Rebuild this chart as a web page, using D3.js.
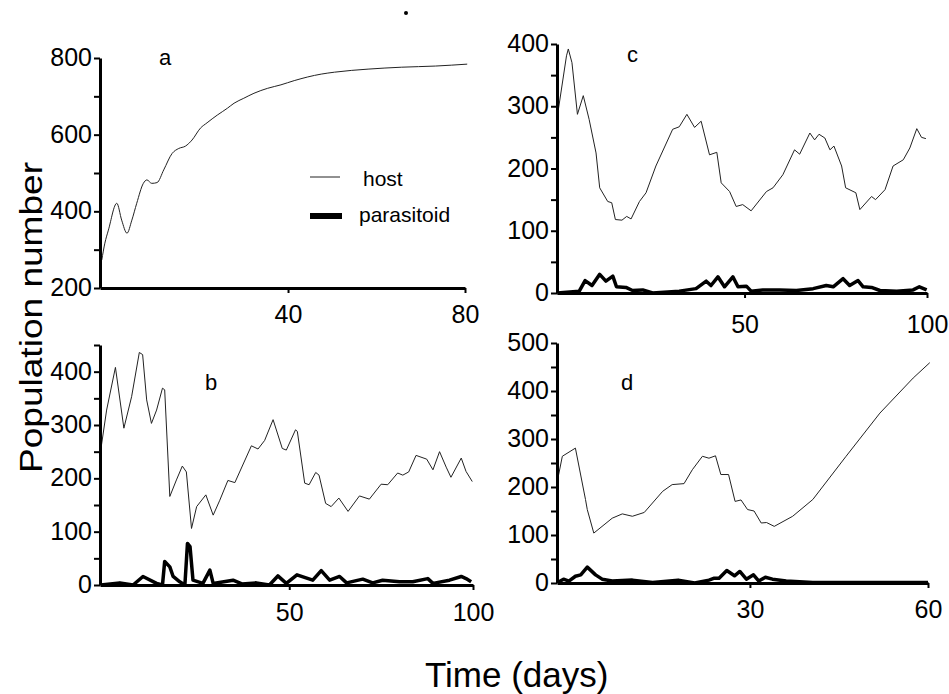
<!DOCTYPE html>
<html>
<head>
<meta charset="utf-8">
<script src="https://cdn.jsdelivr.net/npm/d3@7"></script>
<style>
  body { margin: 0; background: #fff; }
  svg text { font-family: "Liberation Sans", Arial, Helvetica, sans-serif; fill: #000; }
</style>
</head>
<body>
<svg id="chart" width="949" height="694"></svg>
<script>
// host / parasitoid numbers as [day, population]
const hostA = [[-2.1,273],[-1.4,317],[-0.6,351],[1.3,421],[2.4,377],[3.6,343],[4.7,377],[5.8,421],[7.3,473],[8.1,482],[9.2,473],[10.4,475],[11.9,508],[13.8,551],[15.3,564],[16.8,570],[18.3,586],[20.2,617],[21.7,631],[24,651],[26.3,669],[27.8,682],[30,695],[32.3,708],[35.4,721],[38.4,730],[41.4,741],[47.5,758],[50.5,763],[58.1,771],[65.7,776],[73.3,779],[80.5,784]];

const hostB = [[-1.3,253],[0.3,328],[2.7,408],[5.0,294],[7.1,353],[9.2,436],[10.1,432],[11.2,347],[12.5,303],[13.9,328],[15.5,369],[16.1,366],[17.5,166],[19.3,197],[20.9,223],[22,212],[23.4,106],[24.8,147],[27.3,169],[29.3,131],[31.1,159],[33.3,196],[35.2,192],[39.7,261],[41.5,255],[43.3,271],[45.6,310],[48.1,256],[49.2,253],[51.7,291],[52.2,288],[54.2,191],[55.4,188],[57.2,211],[58.1,206],[59.9,153],[61.4,147],[63.5,163],[66,138],[69.1,167],[71.8,161],[75,189],[76.8,188],[79.5,210],[80.9,206],[82.5,212],[84.5,243],[87.4,236],[89.1,216],[90.9,250],[92.7,221],[94,202],[96.8,238],[98.1,213],[99.8,194]];
const paraB = [[-1.3,0],[3.9,4],[7.5,0],[10.2,16],[13.9,3],[15.5,0],[16.1,44],[17.5,34],[18.4,16],[20.2,6],[21.6,0],[22.3,78],[23,72],[23.8,9],[26.5,3],[28.4,28],[29.3,3],[34.7,9],[37.1,2],[41,4],[44.6,0],[46.9,17],[49.2,3],[52.1,19],[56.4,9],[58.7,27],[61,9],[63.7,16],[65.6,4],[70,11],[72.7,4],[75.4,9],[80,6],[83.6,6],[87.7,12],[89.1,3],[93.6,9],[96.8,16],[98.1,12],[99.5,6]];

const hostC = [[-1.3,284],[1.2,381],[1.7,392],[2.7,370],[4.2,287],[5.8,317],[7.4,279],[9.3,225],[10.3,169],[12.5,147],[13.6,145],[14.6,118],[16.4,117],[17.7,123],[18.9,119],[21.2,147],[23,161],[25.7,204],[30.3,263],[32.1,267],[34.2,287],[36.3,266],[38.1,276],[40.4,222],[42.4,226],[43.6,177],[45.9,163],[47.7,139],[49.5,142],[51.8,132],[56,163],[57.8,169],[60.5,190],[63.7,230],[65.1,223],[67.9,257],[69.2,246],[70.4,255],[72,249],[73.4,230],[74.5,236],[76.6,204],[77.7,169],[80.5,161],[81.6,134],[84.8,155],[85.9,150],[88.5,166],[90.7,204],[93.5,214],[95.3,233],[97.2,264],[98.5,250],[99.7,248]];
const paraC = [[-1.3,0],[4.7,3],[6.3,20],[8.2,12],[10.3,30],[12,19],[13.9,27],[14.9,10],[17.5,9],[19.3,4],[22.1,5],[24.8,0],[32.1,3],[36.7,7],[39.5,19],[40.8,12],[42.7,26],[44.5,10],[46.8,26],[48.2,10],[50.5,11],[51.8,3],[55,5],[59.6,5],[64.2,4],[68.8,7],[72.4,12],[74.3,10],[77,23],[78.8,12],[81.1,20],[82.5,10],[84.8,9],[87.1,4],[91.7,3],[96.2,5],[97.9,10],[99.9,5]];

const hostD = [[-2.4,215],[-1.6,264],[0.6,281],[2.3,174],[2.6,153],[3.7,104],[6.8,135],[8.5,144],[10.2,139],[12.2,147],[15.3,191],[16.9,205],[18.9,207],[20.3,236],[22,264],[23.1,260],[24.2,265],[25.1,226],[26.4,226],[27.5,170],[28.5,173],[29.6,153],[30.7,150],[31.9,125],[32.8,126],[34.1,118],[37.2,139],[40.6,174],[46.2,264],[51.9,354],[57.5,427],[60.3,459]];
const paraD = [[-2.4,1],[-1.4,8],[-0.5,4],[0.6,14],[1.5,17],[2.6,33],[4,17],[5.1,8],[6.8,4],[10.2,6],[13.6,1],[17.9,6],[20.7,0],[23.1,6],[24,10],[24.8,10],[26.1,26],[27.4,15],[28.3,24],[29.4,8],[30.6,17],[31.5,4],[32.6,12],[33.8,8],[36.1,4],[40.6,1],[52,1],[60,1]];

// tick values
const ticksA = [40, 80], ticksB = [50, 100], ticksC = [50, 100], ticksD = [30, 60];

const svg = d3.select("#chart");

// one panel: x/y scales, axes, lines, letter
function panel(cfg){
    const x = d3.scaleLinear().domain(cfg.xDom).range(cfg.xRange);
    const y = d3.scaleLinear().domain(cfg.yDom).range(cfg.yRange);
    const g = svg.append("g");

    const line = d3.line().x(d => x(d[0])).y(d => y(d[1])).curve(cfg.curve || d3.curveLinear);
    if (cfg.host) g.append("path").datum(cfg.host).attr("d", line)
        .attr("fill", "none").attr("stroke", "#222").attr("stroke-width", 1);
    if (cfg.para) g.append("path").datum(cfg.para).attr("d", line)
        .attr("fill", "none").attr("stroke", "#000").attr("stroke-width", 3.5)
        .attr("stroke-linejoin", "round");

    // y axis: minor ticks every step, labels every 2 steps
    const yTicks = d3.range(cfg.yDom[0], cfg.yDom[1] + 1, cfg.yStep);
    const yAxis = d3.axisLeft(y).tickValues(yTicks).tickSize(6).tickSizeOuter(0)
        .tickFormat((d, i) => i % 2 == 0 ? d : "");
    const ya = g.append("g").attr("transform", `translate(${cfg.xRange[0]},0)`).call(yAxis);
    ya.select(".domain").attr("stroke-width", 3).attr("stroke", "#000");
    ya.selectAll(".tick line").attr("stroke-width", 2);
    ya.selectAll("text").attr("font-size", 25).attr("dy", "0.3em").attr("x", -8);

    const xAxis = d3.axisBottom(x).tickValues(cfg.xTicks).tickSize(5).tickSizeOuter(0);
    const xa = g.append("g").attr("transform", `translate(0,${cfg.yRange[0]})`).call(xAxis);
    xa.select(".domain").attr("stroke-width", 3).attr("stroke", "#000");
    xa.selectAll(".tick line").attr("stroke-width", 2);
    xa.selectAll("text").attr("font-size", 25).attr("y", cfg.labelGap).attr("dy", "0.71em");
    svg.selectAll("g[font-family]").attr("font-family", null).attr("font-size", null);

    g.append("text").attr("x", cfg.letter[0]).attr("y", cfg.letter[1])
        .attr("font-size", 22).text(cfg.name);
    return g;
}

const gA = panel({name: "a", xDom: [-2.5, 80], xRange: [100, 465], yDom: [200, 800], yRange: [288, 58],
    yStep: 100, xTicks: ticksA, host: hostA, curve: d3.curveMonotoneX, labelGap: 17, letter: [159, 65]});
panel({name: "b", xDom: [-1.5, 100], xRange: [100, 473], yDom: [0, 450], yRange: [585, 345],
    yStep: 50, xTicks: ticksB, host: hostB, para: paraB, labelGap: 18, letter: [205, 390]});
panel({name: "c", xDom: [-1.4, 100], xRange: [557, 927], yDom: [0, 400], yRange: [293, 44],
    yStep: 50, xTicks: ticksC, host: hostC, para: paraC, labelGap: 22, letter: [627, 62]});
panel({name: "d", xDom: [-2.5, 60], xRange: [557, 928], yDom: [0, 500], yRange: [583, 343],
    yStep: 50, xTicks: ticksD, host: hostD, para: paraD, labelGap: 17, letter: [621, 390]});

// legend in panel a
gA.append("line").attr("x1", 310).attr("x2", 340).attr("y1", 177).attr("y2", 177)
    .attr("stroke", "#222").attr("stroke-width", 1);
gA.append("text").attr("x", 363).attr("y", 186).attr("font-size", 21).text("host");
gA.append("rect").attr("x", 310).attr("y", 213).attr("width", 32).attr("height", 6).attr("fill", "#000");
gA.append("text").attr("x", 359).attr("y", 222).attr("font-size", 21).text("parasitoid");

// axis titles
svg.append("text").attr("transform", "translate(42,317.5) rotate(-90)")
    .attr("text-anchor", "middle").attr("font-size", 31)
    .attr("textLength", 311).attr("lengthAdjust", "spacingAndGlyphs")
    .text("Population number");
svg.append("text").attr("x", 425).attr("y", 687).attr("font-size", 35).text("Time (days)");

// stray print dot at the top
svg.append("circle").attr("cx", 406).attr("cy", 13).attr("r", 2).attr("fill", "#000");
</script>
</body>
</html>
